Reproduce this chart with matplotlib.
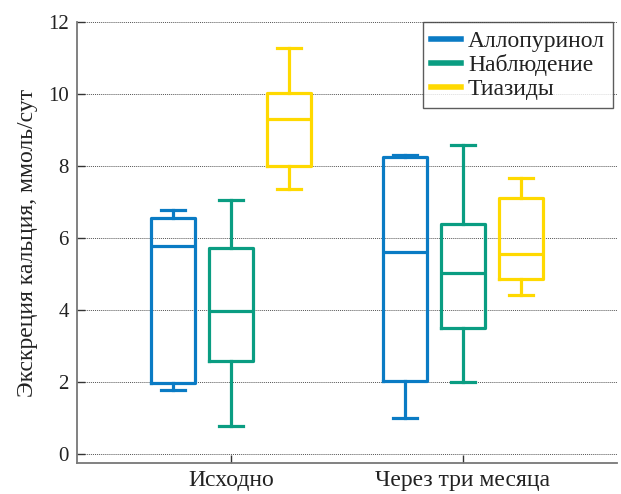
import numpy as np
import matplotlib
matplotlib.use("Agg")
import matplotlib.pyplot as plt
from matplotlib.lines import Line2D

# Box stats (mmol/day)
groups = ["Исходно", "Через три месяца"]
series = ["Аллопуринол", "Наблюдение", "Тиазиды"]
colors = ["#0a7bc4", "#0a9d82", "#ffd900"]

# per series: [baseline, after 3 months]
whislo = [[1.78, 0.99], [0.78, 2.01], [7.36, 4.41]]
q1 = [[1.98, 2.03], [2.59, 3.51], [8.00, 4.85]]
med = [[5.79, 5.60], [3.97, 5.02], [9.31, 5.56]]
q3 = [[6.55, 8.26], [5.73, 6.39], [10.02, 7.12]]
whishi = [[6.78, 8.30], [7.06, 8.57], [11.27, 7.66]]

plt.rcParams['font.family'] = ['Liberation Serif', 'DejaVu Serif']

fig = plt.figure(figsize=(6.21, 4.94), dpi=100)
ax = fig.add_axes([77 / 621, 1 - 463 / 494, 540 / 621, (463 - 22) / 494])

offsets = [-0.25, 0.0, 0.25]
for s in range(3):
    stats = []
    for g in range(2):
        stats.append(dict(whislo=whislo[s][g], q1=q1[s][g], med=med[s][g],
                          q3=q3[s][g], whishi=whishi[s][g], fliers=[]))
    pos = [g + 1 + offsets[s] for g in range(2)]
    c = colors[s]
    ax.bxp(stats, positions=pos, widths=0.19, capwidths=0.1, showfliers=False,
           manage_ticks=False,
           boxprops=dict(color=c, linewidth=2.3),
           medianprops=dict(color=c, linewidth=2.3),
           whiskerprops=dict(color=c, linewidth=2.3),
           capprops=dict(color=c, linewidth=2.3))

ax.set_xlim(0.336, 2.664)
ax.set_ylim(-0.25, 12)
ax.set_yticks(np.arange(0, 13, 2))
ax.set_xticks([1, 2])
ax.set_xticklabels(groups, fontsize=17)
ax.yaxis.grid(True, linestyle=(0, (1, 1)), color='#555555', linewidth=0.7)
ax.set_axisbelow(True)

for side in ['top', 'right']:
    ax.spines[side].set_visible(False)
for side in ['left', 'bottom']:
    ax.spines[side].set_color('#777777')
    ax.spines[side].set_linewidth(1.3)

ax.tick_params(axis='both', direction='in', length=6, width=1, color='#333333',
               labelcolor='#222222')
ax.tick_params(axis='y', pad=6, labelsize=15)
ax.tick_params(axis='x', pad=5)
ax.set_ylabel("Экскреция кальция, ммоль/сут", fontsize=17, color='#222222', labelpad=7)

handles = [Line2D([0], [0], color=c, linewidth=4) for c in colors]
leg = ax.legend(handles, series, loc='upper right', bbox_to_anchor=(0.993, 1.0),
                fontsize=17, frameon=True, fancybox=False, handlelength=1.25,
                handletextpad=0.3, borderpad=0.35, labelspacing=0.1,
                borderaxespad=0.0)
leg.get_frame().set_edgecolor('#333333')
leg.get_frame().set_linewidth(1.0)
for t in leg.get_texts():
    t.set_color('#222222')

plt.savefig('out.png', dpi=100)
